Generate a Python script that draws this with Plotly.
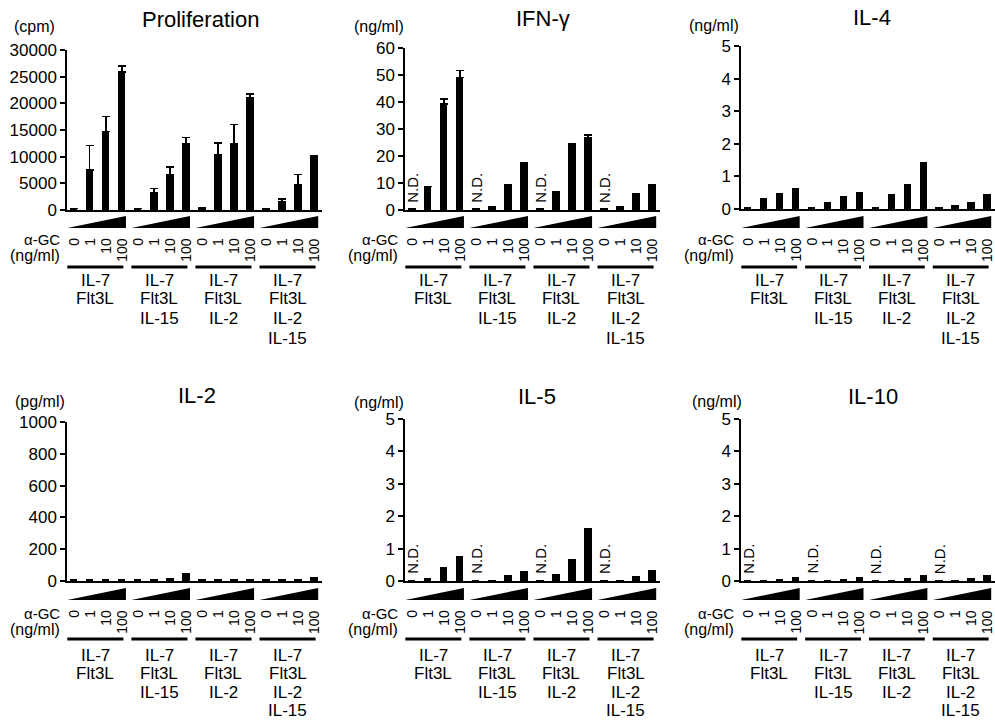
import plotly.graph_objects as go

W, H = 995, 722
FONT = "Liberation Sans, Arial, sans-serif"

# ---------------- data ----------------
group_labels = [["IL-7", "Flt3L"],
                ["IL-7", "Flt3L", "IL-15"],
                ["IL-7", "Flt3L", "IL-2"],
                ["IL-7", "Flt3L", "IL-2", "IL-15"]]
dose_labels = ["0", "1", "10", "100"]

prolif = [300, 7500, 14700, 25900, 300, 3250, 6700, 12500,
          500, 10440, 12400, 21100, 300, 1600, 4700, 10100]
prolif_err = [0, 4560, 2800, 1100, 0, 800, 1400, 1060,
              0, 2160, 3660, 650, 0, 460, 2000, 100]

ifng = [0.4, 8.7, 39.3, 49.1, 0.4, 1.2, 9.5, 17.6,
        0.4, 6.6, 24.1, 26.9, 0.4, 1.2, 5.9, 9.5]
ifng_err = [0, 0, 1.8, 2.5, 0, 0, 0, 0,
            0, 0, 0.3, 0.9, 0, 0, 0, 0]

il4 = [0.07, 0.33, 0.5, 0.65, 0.07, 0.2, 0.4, 0.53,
       0.07, 0.46, 0.76, 1.43, 0.06, 0.12, 0.22, 0.45]

il2 = [8, 8, 8, 8, 8, 8, 20, 50,
       8, 8, 8, 8, 8, 8, 8, 25]

il5 = [0.03, 0.1, 0.43, 0.78, 0.03, 0.03, 0.18, 0.31,
       0.03, 0.23, 0.69, 1.65, 0.03, 0.03, 0.14, 0.35]

il10 = [0.02, 0.02, 0.05, 0.12, 0.02, 0.02, 0.05, 0.12,
        0.02, 0.02, 0.09, 0.17, 0.02, 0.02, 0.1, 0.2]

# ---------------- layout geometry (pixels) ----------------
col_x = [(67, 322), (405, 660), (741, 995)]
rows = [
    dict(wedge=(216, 228), agc=239, ngml=255, dose_top=236, line=267,
         labels=[280, 299, 318, 338]),
    dict(wedge=(588, 600), agc=613, ngml=629, dose_top=608, line=639,
         labels=[655, 673, 692, 710]),
]

panels = [
    dict(title="Proliferation", unit="(cpm)", vals=prolif, err=prolif_err, nd=False,
         ymax=30000, dtick=5000, col=0, row=0, top=50, base=210,
         title_xy=(200, 20), unit_xy=(12, 27)),
    dict(title="IFN-γ", unit="(ng/ml)", vals=ifng, err=ifng_err, nd=True,
         ymax=60, dtick=10, col=1, row=0, top=48, base=210,
         title_xy=(543, 19), unit_xy=(352, 27)),
    dict(title="IL-4", unit="(ng/ml)", vals=il4, err=None, nd=False,
         ymax=5, dtick=1, col=2, row=0, top=46, base=209,
         title_xy=(872, 18), unit_xy=(687, 26)),
    dict(title="IL-2", unit="(pg/ml)", vals=il2, err=None, nd=False,
         ymax=1000, dtick=200, col=0, row=1, top=422, base=581,
         title_xy=(197, 395), unit_xy=(13, 401)),
    dict(title="IL-5", unit="(ng/ml)", vals=il5, err=None, nd=True,
         ymax=5, dtick=1, col=1, row=1, top=419, base=581,
         title_xy=(537, 396), unit_xy=(352, 402)),
    dict(title="IL-10", unit="(ng/ml)", vals=il10, err=None, nd=True,
         ymax=5, dtick=1, col=2, row=1, top=419, base=581,
         title_xy=(873, 396), unit_xy=(690, 401)),
]

XRANGE = [-0.42, 15.5]


def fx(p):
    return p / W


def fy(p):
    return 1 - p / H


fig = go.Figure()
annotations = []
shapes = []
layout = {}

xs = [g * 4 + d for g in range(4) for d in range(4)]

for i, p in enumerate(panels, start=1):
    xname = "x" if i == 1 else f"x{i}"
    yname = "y" if i == 1 else f"y{i}"
    xl, xr = col_x[p["col"]]
    r = rows[p["row"]]

    bar = dict(x=xs, y=p["vals"], marker=dict(color="black", line=dict(width=0)),
               width=0.46, xaxis=xname, yaxis=yname, showlegend=False,
               hoverinfo="skip")
    if p["err"] is not None:
        bar["error_y"] = dict(type="data", array=p["err"], arrayminus=[0] * 16,
                              symmetric=False, color="black", thickness=1.5, width=4)
    fig.add_trace(go.Bar(**bar))

    layout[f"xaxis{i}"] = dict(domain=[fx(xl), min(fx(xr), 1.0)], range=XRANGE,
                               anchor=yname, showline=True, linecolor="black",
                               linewidth=2, showticklabels=False, ticks="",
                               showgrid=False, zeroline=False, fixedrange=True,
                               automargin=False)
    layout[f"yaxis{i}"] = dict(domain=[fy(p["base"]), fy(p["top"])],
                               range=[0, p["ymax"]], dtick=p["dtick"], tick0=0,
                               tickformat="d",
                               anchor=xname, showline=True, linecolor="black",
                               linewidth=1.5, ticks="outside", ticklen=5,
                               tickwidth=1.5, tickcolor="black",
                               tickfont=dict(size=17, color="black", family=FONT),
                               showgrid=False, zeroline=False, fixedrange=True,
                               automargin=False)

    # title
    annotations.append(dict(text=p["title"], xref="paper", yref="paper",
                            x=fx(p["title_xy"][0]), y=fy(p["title_xy"][1]),
                            xanchor="center", yanchor="middle", showarrow=False,
                            font=dict(size=22, color="black", family=FONT)))
    # unit
    annotations.append(dict(text=p["unit"], xref="paper", yref="paper",
                            x=fx(p["unit_xy"][0]), y=fy(p["unit_xy"][1]),
                            xanchor="left", yanchor="middle", showarrow=False,
                            font=dict(size=16, color="black", family=FONT)))
    # alpha-GC label
    annotations.append(dict(text="α-GC", xref="paper", yref="paper",
                            x=fx(xl - 5), y=fy(r["agc"]), xanchor="right",
                            yanchor="middle", showarrow=False,
                            font=dict(size=15, color="black", family=FONT)))
    annotations.append(dict(text="(ng/ml)", xref="paper", yref="paper",
                            x=fx(xl - 5), y=fy(r["ngml"]), xanchor="right",
                            yanchor="middle", showarrow=False,
                            font=dict(size=16, color="black", family=FONT)))

    for g in range(4):
        # wedge
        x0 = g * 4 - 0.4
        x1 = g * 4 + 3.26
        yb = fy(r["wedge"][1])
        yt = fy(r["wedge"][0])
        shapes.append(dict(type="path", xref=xname, yref="paper",
                           path=f"M {x0},{yb} L {x1},{yb} L {x1},{yt} Z",
                           fillcolor="black", line=dict(width=0)))
        # group underline
        shapes.append(dict(type="line", xref=xname, yref="paper",
                           x0=g * 4 - 0.4, x1=g * 4 + 3.1,
                           y0=fy(r["line"]), y1=fy(r["line"]),
                           line=dict(color="black", width=3)))
        # dose labels
        for d, lab in enumerate(dose_labels):
            annotations.append(dict(text=lab, xref=xname, yref="paper",
                                    x=g * 4 + d, y=fy(r["dose_top"]),
                                    xanchor="center", yanchor="top",
                                    textangle=-90, showarrow=False,
                                    font=dict(size=14, color="black", family=FONT)))
        # group labels
        for k, lab in enumerate(group_labels[g]):
            annotations.append(dict(text=lab, xref=xname, yref="paper",
                                    x=g * 4 + 1.35, y=fy(r["labels"][k]),
                                    xanchor="center", yanchor="middle",
                                    showarrow=False,
                                    font=dict(size=17, color="black", family=FONT)))
        # N.D.
        if p["nd"]:
            annotations.append(dict(text="N.D.", xref=xname, yref=yname,
                                    x=g * 4, y=0, xanchor="center",
                                    yanchor="bottom", yshift=5, textangle=-90,
                                    showarrow=False,
                                    font=dict(size=15, color="black", family=FONT)))

fig.update_layout(**layout)
fig.update_layout(width=W, height=H,
                  margin=dict(l=0, r=0, t=0, b=0, pad=0, autoexpand=False),
                  paper_bgcolor="white", plot_bgcolor="white",
                  bargap=0, annotations=annotations, shapes=shapes,
                  font=dict(family=FONT, color="black"))

fig.write_html("out.html", config={"displayModeBar": False},
               post_script="document.body.style.margin='0';")
